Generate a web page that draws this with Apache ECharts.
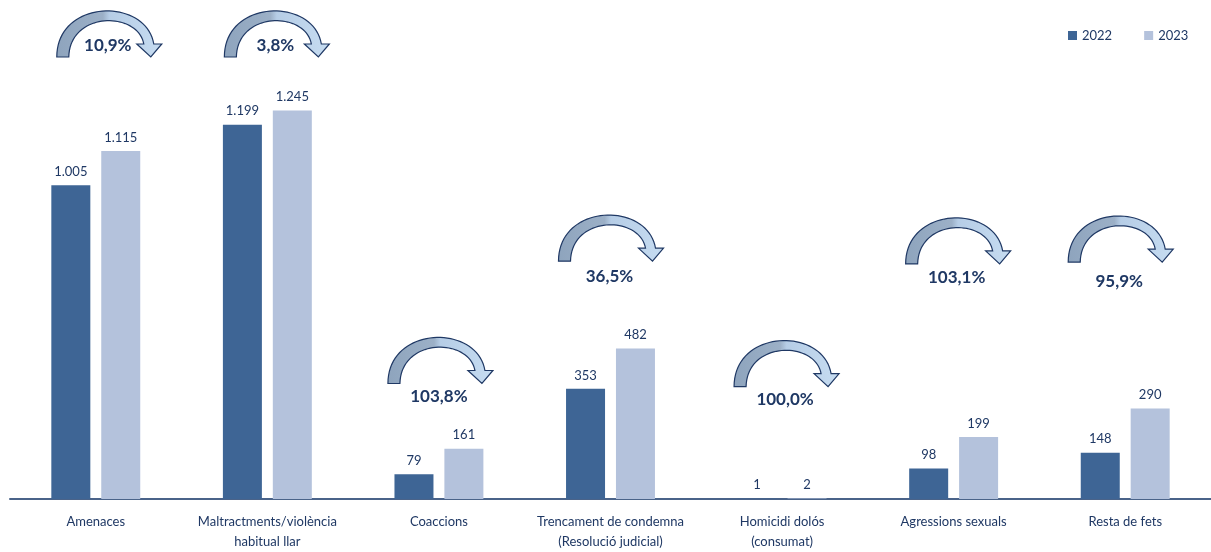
<!DOCTYPE html>
<html>
<head>
<meta charset="utf-8">
<script src="https://cdn.jsdelivr.net/npm/echarts@6/dist/echarts.min.js"></script>
<style>
html,body{margin:0;padding:0;background:#fff;}
#chart{width:1211px;height:552px;}
</style>
</head>
<body>
<div id="chart"></div>
<script>
const categories = ['Amenaces', 'Maltractments/violència\nhabitual llar', 'Coaccions', 'Trencament de condemna\n(Resolució judicial)', 'Homicidi dolós\n(consumat)', 'Agressions sexuals', 'Resta de fets'];
const values2022 = [1005, 1199, 79, 353, 1, 98, 148];
const values2023 = [1115, 1245, 161, 482, 2, 199, 290];
const seriesNames = ['2022', '2023'];

// annotation placement (value units on the y scale, and px shift)
const arrowBase = [1416, 1416, 370, 762, 360, 753, 759];
const arrowLabel = [1454, 1454, 328, 714, 319, 711, 698];
const arrowShift = [12, 8, 0, -1, 3, 3, -6];

const NAVY = '#1f3864';
const fmtNum = v => String(v).replace(/\B(?=(\d{3})+(?!\d))/g, '.');
const pctText = categories.map((c, i) => ((values2023[i] - values2022[i]) / values2022[i] * 100).toFixed(1).replace('.', ',') + '%');

function cubic(p0, p1, p2, p3, n) {
  const pts = [];
  for (let k = 0; k <= n; k++) {
    const t = k / n, u = 1 - t;
    pts.push([
      u*u*u*p0[0] + 3*u*u*t*p1[0] + 3*u*t*t*p2[0] + t*t*t*p3[0],
      u*u*u*p0[1] + 3*u*u*t*p1[1] + 3*u*t*t*p2[1] + t*t*t*p3[1]
    ]);
  }
  return pts;
}
const arrowLocal = [].concat(
  cubic([-51, 0], [-51, -58], [38, -60], [46, -13], 40),
  [[54, -13], [43, 0], [29, -13], [36, -13]],
  cubic([36, -13], [30, -46], [-38, -46], [-39, 0], 40)
);

const chart = echarts.init(document.getElementById('chart'));
const arrowData = categories.map((c, i) => [i, arrowBase[i], arrowLabel[i], arrowShift[i]]);

chart.setOption({
  animation: false,
  textStyle: { fontFamily: 'Lato' },
  legend: {
    data: seriesNames,
    left: 1063, top: 24,
    icon: 'rect', itemWidth: 9, itemHeight: 9, itemGap: 32,
    textStyle: { fontSize: 13, color: NAVY, fontFamily: 'Lato' }
  },
  grid: { left: 10, width: 1209, top: 62, bottom: 51 },
  xAxis: {
    type: 'category',
    data: categories,
    axisLine: { lineStyle: { color: '#4a6389', width: 2 } },
    axisTick: { show: false },
    axisLabel: { color: NAVY, fontSize: 13, lineHeight: 20, margin: 13, interval: 0, fontFamily: 'Lato' }
  },
  yAxis: { type: 'value', min: 0, max: 1400, show: false, splitLine: { show: false } },
  series: [
    {
      name: '2022', type: 'bar', data: values2022, barWidth: 39, barGap: '28%',
      itemStyle: { color: '#3e6595' },
      label: { show: true, position: 'top', distance: 7, color: NAVY, fontSize: 13, fontFamily: 'Lato', formatter: p => fmtNum(p.value) }
    },
    {
      name: '2023', type: 'bar', data: values2023, barWidth: 39,
      itemStyle: { color: '#b4c2dc' },
      label: { show: true, position: 'top', distance: 7, color: NAVY, fontSize: 13, fontFamily: 'Lato', formatter: p => fmtNum(p.value) }
    },
    {
      type: 'custom', name: 'arrows', data: arrowData, clip: false, z: 5,
      encode: { x: 0, y: 1 },
      renderItem: function (params, api) {
        const i = api.value(0);
        const base = api.coord([i, api.value(1)]);
        const lab = api.coord([i, api.value(2)]);
        const dx = api.value(3);
        const cx = base[0] + dx, cy = base[1];
        const pts = arrowLocal.map(p => [cx + p[0], cy + p[1]]);
        return {
          type: 'group',
          children: [
            {
              type: 'polygon',
              shape: { points: pts },
              style: {
                fill: new echarts.graphic.LinearGradient(0, 0, 1, 0, [
                  { offset: 0, color: '#8ea4bd' },
                  { offset: 0.44, color: '#9cb0c7' },
                  { offset: 0.5, color: '#b6cde6' },
                  { offset: 1, color: '#c6dcf1' }
                ]),
                stroke: NAVY, lineWidth: 1.2
              }
            },
            {
              type: 'text',
              style: {
                text: pctText[params.dataIndex],
                x: lab[0] + dx, y: lab[1],
                align: 'center', verticalAlign: 'middle',
                font: 'bold 17px Lato', fill: NAVY
              }
            }
          ]
        };
      }
    }
  ]
});
</script>
</body>
</html>
